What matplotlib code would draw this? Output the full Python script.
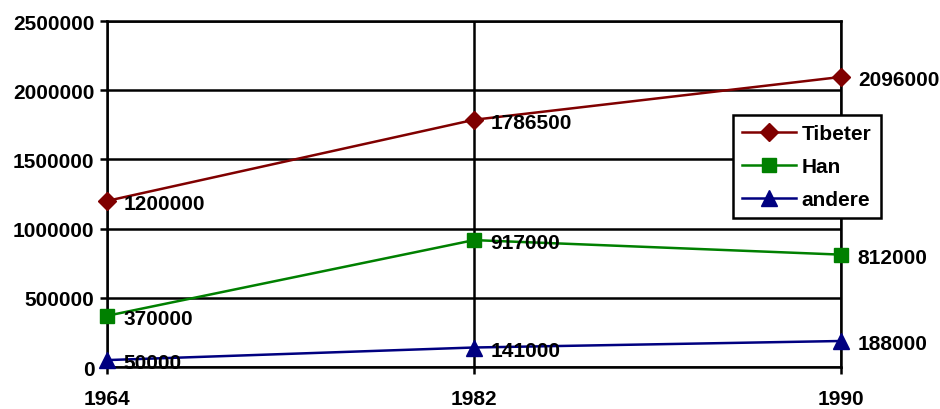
import matplotlib

matplotlib.use("Agg")

import matplotlib.pyplot as plt
import matplotlib.ticker as mtick

plt.rcParams["font.family"] = ["Liberation Sans", "DejaVu Sans"]
plt.rcParams["font.weight"] = "bold"

years = ["1964", "1982", "1990"]
tibeter = [1200000, 1786500, 2096000]
han = [370000, 917000, 812000]
andere = [50000, 141000, 188000]

SERIES = [
    ("Tibeter", tibeter, "#800000", "D", 9.5),
    ("Han", han, "#008000", "s", 10.5),
    ("andere", andere, "#000080", "^", 11),
]
FS = 15

fig = plt.figure(figsize=(9.4, 4.1), dpi=100)
ax = fig.add_axes([0.1138, 0.1024, 0.781, 0.8439])

xs = list(range(len(years)))
for name, vals, color, marker, ms in SERIES:
    ax.plot(xs, vals, color=color, linewidth=1.8, marker=marker,
            markersize=ms, markeredgecolor=color, label=name,
            clip_on=False, zorder=3)
    for x, v in zip(xs, vals):
        ax.annotate(f"{v}", (x, v), xytext=(12, -2), textcoords="offset points",
                    ha="left", va="center", fontsize=FS, fontweight="bold",
                    color="black", zorder=4, annotation_clip=False)

ax.set_xlim(0, 2)
ax.set_ylim(0, 2500000)
ax.set_xticks(xs)
ax.set_xticklabels(years)
ax.yaxis.set_major_locator(mtick.MultipleLocator(500000))
ax.yaxis.set_major_formatter(mtick.FuncFormatter(lambda v, _: f"{v:.0f}"))
ax.tick_params(axis="both", direction="out", length=5, width=1.8,
               labelsize=FS, colors="black")
ax.tick_params(axis="x", pad=11)
ax.tick_params(axis="y", pad=4)
ax.grid(True, color="black", linewidth=1.8)
ax.set_axisbelow(True)
for side in ["left", "bottom", "top", "right"]:
    ax.spines[side].set_linewidth(1.8)

# legend box sits across the right edge of the plot, as in the original
leg = fig.legend(loc="lower left", bbox_to_anchor=(0.78, 0.466, 0.157, 0.246),
                 mode="expand", fontsize=FS, frameon=True, fancybox=False,
                 borderaxespad=0, handlelength=2.6, handletextpad=0.25,
                 labelspacing=0.68, borderpad=0.42)
leg.get_frame().set_edgecolor("black")
leg.get_frame().set_linewidth(1.8)
leg.get_frame().set_alpha(1)

fig.savefig("out.png", dpi=100)
